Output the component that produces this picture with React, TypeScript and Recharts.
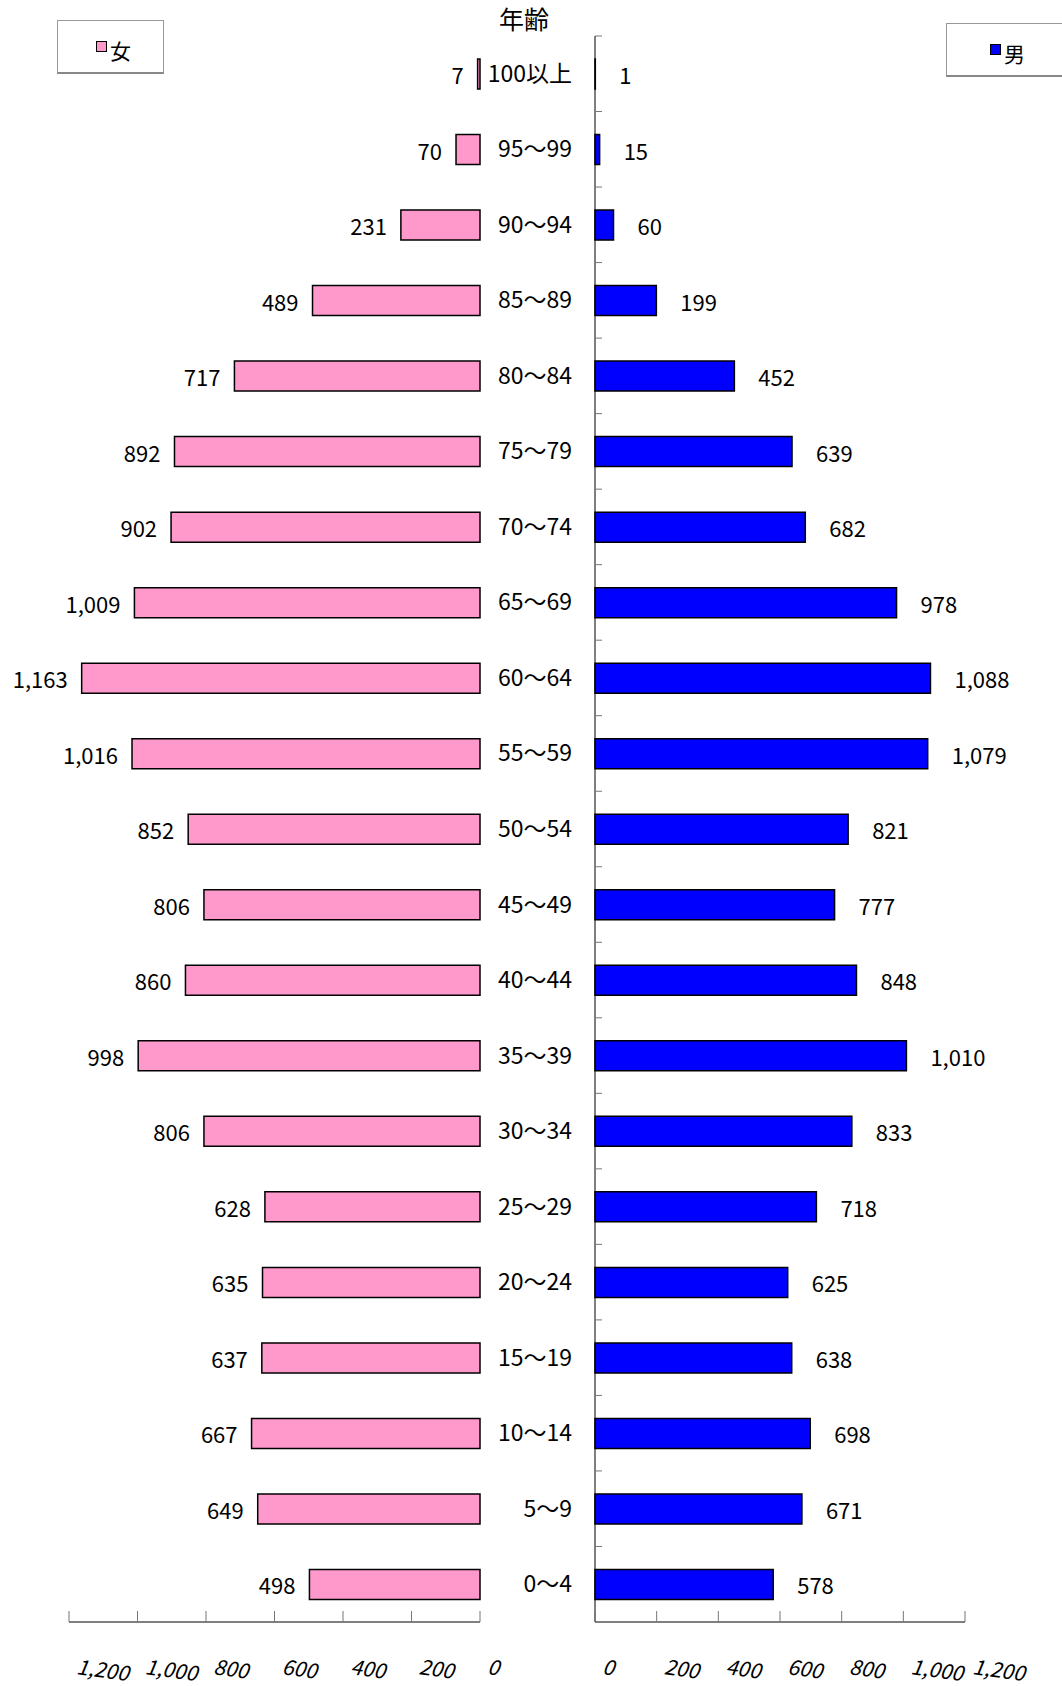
import React from "react";
import {Bar, BarChart, LabelList, XAxis, YAxis} from "recharts";

// 年齢階級（上から 100以上 → 0～4）
const ages = ["100以上", "95～99", "90～94", "85～89", "80～84", "75～79", "70～74", "65～69", "60～64", "55～59",
    "50～54", "45～49", "40～44", "35～39", "30～34", "25～29", "20～24", "15～19", "10～14", "5～9", "0～4"];
const female = [7, 70, 231, 489, 717, 892, 902, 1009, 1163, 1016, 852, 806, 860, 998, 806, 628, 635, 637, 667, 649, 498];
const male = [1, 15, 60, 199, 452, 639, 682, 978, 1088, 1079, 821, 777, 848, 1010, 833, 718, 625, 638, 698, 671, 578];
const xTicks = [0, 200, 400, 600, 800, 1000, 1200];

const data = ages.map((a, i) => ({age: a, female: female[i], male: male[i]}));

const FONT = "'Noto Sans CJK JP', 'Noto Sans', sans-serif";
const H = 1686;
const TOP = 36;
const BOTTOM = 1622;
const AXIS_H = 60;
const BAND = (BOTTOM - TOP) / ages.length;

const fmt = (v) => Number(v).toLocaleString("en-US");

function XTick(props) {
    const {x, y, payload} = props;
    const tx = x + 8;
    const ty = y + 43;
    return (
        <g>
            <line x1={x} y1={y} x2={x} y2={y - 11} stroke="#777" strokeWidth={1}/>
            <text x={tx} y={ty} transform={`rotate(8 ${tx} ${ty})`} fontStyle="italic" fontSize={21}
                  fontFamily={FONT} fill="#000" textAnchor="start" dominantBaseline="central">
                {fmt(payload.value)}
            </text>
        </g>
    );
}

function AgeTick(props) {
    const {x, y, payload} = props;
    const top = y - BAND / 2;
    return (
        <g>
            <line x1={x} y1={top} x2={x + 7} y2={top} stroke="#777" strokeWidth={1}/>
            <text x={x - 23} y={y - 2} textAnchor="end" dominantBaseline="central" fontSize={23}
                  fontFamily={FONT} fill="#000">
                {payload.value}
            </text>
        </g>
    );
}

function box(p) {
    const v = p.viewBox || p;
    return {x: v.x, y: v.y, w: v.width, h: v.height};
}

function FemaleLabel(props) {
    const b = box(props);
    const left = Math.min(b.x, b.x + b.w);
    return (
        <text x={left - 14} y={b.y + b.h / 2} textAnchor="end" dominantBaseline="central" fontSize={22}
              fontFamily={FONT} fill="#000">
            {fmt(props.value)}
        </text>
    );
}

function MaleLabel(props) {
    const b = box(props);
    const right = Math.max(b.x, b.x + b.w);
    return (
        <text x={right + 24} y={b.y + b.h / 2} textAnchor="start" dominantBaseline="central" fontSize={22}
              fontFamily={FONT} fill="#000">
            {fmt(props.value)}
        </text>
    );
}

function LegendBox({left, top, width, sqLeft, txtLeft, color, text}) {
    return (
        <div style={{
            position: "absolute", left, top, width, height: 54, boxSizing: "border-box",
            border: "1px solid #999", borderBottom: "2px solid #888", background: "#fff",
        }}>
            <div style={{
                position: "absolute", left: sqLeft, top: 20, width: 11, height: 11, boxSizing: "border-box",
                background: color, border: "1.5px solid #000",
            }}/>
            <div style={{
                position: "absolute", left: txtLeft, top: 18, fontSize: 21, lineHeight: "22px",
                fontFamily: FONT, color: "#000",
            }}>{text}</div>
        </div>
    );
}

export default function App() {
    return (
        <div style={{position: "absolute", left: 0, top: 0, width: 1062, height: H, background: "#fff", overflow: "hidden"}}>
            <div style={{position: "absolute", left: 0, top: 0}}>
                <BarChart width={530} height={H} layout="vertical" data={data}
                          margin={{top: TOP, bottom: H - BOTTOM - AXIS_H, left: 69, right: 50}}>
                    <XAxis type="number" domain={[0, 1200]} ticks={xTicks} reversed interval={0}
                           height={AXIS_H} tickSize={0} tickMargin={0} tick={<XTick/>}
                           axisLine={{stroke: "#000"}} tickLine={false}/>
                    <YAxis type="category" dataKey="age" hide/>
                    <Bar dataKey="female" fill="#FF99CC" stroke="#000" strokeWidth={1.5} barSize={30}
                         isAnimationActive={false}>
                        <LabelList dataKey="female" content={<FemaleLabel/>}/>
                    </Bar>
                </BarChart>
            </div>
            <div style={{position: "absolute", left: 440, top: 0}}>
                <BarChart width={622} height={H} layout="vertical" data={data}
                          margin={{top: TOP, bottom: H - BOTTOM - AXIS_H, left: 0, right: 97}}>
                    <XAxis type="number" domain={[0, 1200]} ticks={xTicks} interval={0}
                           height={AXIS_H} tickSize={0} tickMargin={0} tick={<XTick/>}
                           axisLine={{stroke: "#000"}} tickLine={false}/>
                    <YAxis type="category" dataKey="age" width={155} interval={0} tickSize={0} tickMargin={0}
                           tick={<AgeTick/>} tickLine={false} axisLine={{stroke: "#000"}}/>
                    <Bar dataKey="male" fill="#0000FF" stroke="#000" strokeWidth={1.5} barSize={30}
                         isAnimationActive={false}>
                        <LabelList dataKey="male" content={<MaleLabel/>}/>
                    </Bar>
                </BarChart>
            </div>
            <div style={{
                position: "absolute", left: 499, top: 0, fontSize: 25, fontFamily: FONT, color: "#000",
            }}>年齢</div>
            <LegendBox left={57} top={20} width={107} sqLeft={38} txtLeft={52} color="#FF99CC" text="女"/>
            <LegendBox left={946} top={23} width={130} sqLeft={43} txtLeft={57} color="#0000FF" text="男"/>
        </div>
    );
}
